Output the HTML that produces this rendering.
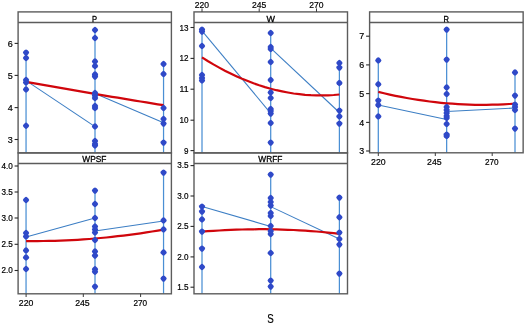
<!DOCTYPE html>
<html><head><meta charset="utf-8"><title>Scatterplot</title>
<style>html,body{margin:0;padding:0;background:#fff}svg{display:block}</style></head>
<body>
<svg width="525" height="325" viewBox="0 0 525 325" font-family='"Liberation Sans", sans-serif' fill="#000">
<rect width="525" height="325" fill="#fff"/>
<line x1="26.05" y1="52.6" x2="26.05" y2="152.9" stroke="#4a8fd4" stroke-width="1.25"/>
<line x1="95.0" y1="30" x2="95.0" y2="152.9" stroke="#4a8fd4" stroke-width="1.25"/>
<line x1="163.55" y1="64" x2="163.55" y2="152.9" stroke="#4a8fd4" stroke-width="1.25"/>
<line x1="26.05" y1="80.6" x2="95.0" y2="126.6" stroke="#3c7ec4" stroke-width="1.05"/>
<line x1="95.0" y1="93.5" x2="163.55" y2="122.7" stroke="#3c7ec4" stroke-width="1.05"/>
<polyline points="26.1,81.8 31.8,82.8 37.5,83.9 43.2,84.9 49.0,85.9 54.7,86.9 60.4,87.9 66.2,88.9 71.9,89.9 77.6,90.9 83.3,91.9 89.1,92.9 94.8,93.9 100.5,94.8 106.3,95.8 112.0,96.8 117.7,97.7 123.4,98.7 129.2,99.6 134.9,100.6 140.6,101.5 146.4,102.4 152.1,103.4 157.8,104.3 163.6,105.2" fill="none" stroke="#d0060c" stroke-width="2.2" stroke-linecap="butt"/>
<rect x="-2.7" y="-2.7" width="5.4" height="5.4" rx="1.8" fill="#2f49c8" transform="translate(26.05 52.6) rotate(45)"/>
<rect x="-2.7" y="-2.7" width="5.4" height="5.4" rx="1.8" fill="#2f49c8" transform="translate(26.05 58) rotate(45)"/>
<rect x="-2.7" y="-2.7" width="5.4" height="5.4" rx="1.8" fill="#2f49c8" transform="translate(26.05 80) rotate(45)"/>
<rect x="-2.7" y="-2.7" width="5.4" height="5.4" rx="1.8" fill="#2f49c8" transform="translate(26.05 82.5) rotate(45)"/>
<rect x="-2.7" y="-2.7" width="5.4" height="5.4" rx="1.8" fill="#2f49c8" transform="translate(26.05 89.4) rotate(45)"/>
<rect x="-2.7" y="-2.7" width="5.4" height="5.4" rx="1.8" fill="#2f49c8" transform="translate(26.05 125.8) rotate(45)"/>
<rect x="-2.7" y="-2.7" width="5.4" height="5.4" rx="1.8" fill="#2f49c8" transform="translate(95.0 30) rotate(45)"/>
<rect x="-2.7" y="-2.7" width="5.4" height="5.4" rx="1.8" fill="#2f49c8" transform="translate(95.0 38) rotate(45)"/>
<rect x="-2.7" y="-2.7" width="5.4" height="5.4" rx="1.8" fill="#2f49c8" transform="translate(95.0 61.4) rotate(45)"/>
<rect x="-2.7" y="-2.7" width="5.4" height="5.4" rx="1.8" fill="#2f49c8" transform="translate(95.0 66) rotate(45)"/>
<rect x="-2.7" y="-2.7" width="5.4" height="5.4" rx="1.8" fill="#2f49c8" transform="translate(95.0 74.4) rotate(45)"/>
<rect x="-2.7" y="-2.7" width="5.4" height="5.4" rx="1.8" fill="#2f49c8" transform="translate(95.0 76.6) rotate(45)"/>
<rect x="-2.7" y="-2.7" width="5.4" height="5.4" rx="1.8" fill="#2f49c8" transform="translate(95.0 93) rotate(45)"/>
<rect x="-2.7" y="-2.7" width="5.4" height="5.4" rx="1.8" fill="#2f49c8" transform="translate(95.0 95.4) rotate(45)"/>
<rect x="-2.7" y="-2.7" width="5.4" height="5.4" rx="1.8" fill="#2f49c8" transform="translate(95.0 98) rotate(45)"/>
<rect x="-2.7" y="-2.7" width="5.4" height="5.4" rx="1.8" fill="#2f49c8" transform="translate(95.0 106) rotate(45)"/>
<rect x="-2.7" y="-2.7" width="5.4" height="5.4" rx="1.8" fill="#2f49c8" transform="translate(95.0 108) rotate(45)"/>
<rect x="-2.7" y="-2.7" width="5.4" height="5.4" rx="1.8" fill="#2f49c8" transform="translate(95.0 126.4) rotate(45)"/>
<rect x="-2.7" y="-2.7" width="5.4" height="5.4" rx="1.8" fill="#2f49c8" transform="translate(95.0 141) rotate(45)"/>
<rect x="-2.7" y="-2.7" width="5.4" height="5.4" rx="1.8" fill="#2f49c8" transform="translate(95.0 144) rotate(45)"/>
<rect x="-2.7" y="-2.7" width="5.4" height="5.4" rx="1.8" fill="#2f49c8" transform="translate(95.0 145.5) rotate(45)"/>
<rect x="-2.7" y="-2.7" width="5.4" height="5.4" rx="1.8" fill="#2f49c8" transform="translate(163.55 64) rotate(45)"/>
<rect x="-2.7" y="-2.7" width="5.4" height="5.4" rx="1.8" fill="#2f49c8" transform="translate(163.55 74) rotate(45)"/>
<rect x="-2.7" y="-2.7" width="5.4" height="5.4" rx="1.8" fill="#2f49c8" transform="translate(163.55 108) rotate(45)"/>
<rect x="-2.7" y="-2.7" width="5.4" height="5.4" rx="1.8" fill="#2f49c8" transform="translate(163.55 119) rotate(45)"/>
<rect x="-2.7" y="-2.7" width="5.4" height="5.4" rx="1.8" fill="#2f49c8" transform="translate(163.55 123.6) rotate(45)"/>
<rect x="-2.7" y="-2.7" width="5.4" height="5.4" rx="1.8" fill="#2f49c8" transform="translate(163.55 142.6) rotate(45)"/>
<rect x="18.1" y="11.9" width="153.3" height="141.0" fill="none" stroke="#5c5c5c" stroke-width="1.4"/>
<line x1="18.1" y1="22.55" x2="171.4" y2="22.55" stroke="#5c5c5c" stroke-width="1.4"/>
<text x="92.10" y="22.20" font-size="8.86" textLength="5.09" lengthAdjust="spacingAndGlyphs" stroke="#000" stroke-width="0.3">P</text>
<line x1="14.600000000000001" y1="43.4" x2="18.1" y2="43.4" stroke="#2a2a2a" stroke-width="1.1"/>
<text x="7.70" y="46.65" font-size="9.04" textLength="5.00" lengthAdjust="spacingAndGlyphs" stroke="#000" stroke-width="0.2">6</text>
<line x1="14.600000000000001" y1="75.4" x2="18.1" y2="75.4" stroke="#2a2a2a" stroke-width="1.1"/>
<text x="7.70" y="78.65" font-size="9.04" textLength="5.00" lengthAdjust="spacingAndGlyphs" stroke="#000" stroke-width="0.2">5</text>
<line x1="14.600000000000001" y1="107.6" x2="18.1" y2="107.6" stroke="#2a2a2a" stroke-width="1.1"/>
<text x="7.70" y="110.85" font-size="9.04" textLength="5.00" lengthAdjust="spacingAndGlyphs" stroke="#000" stroke-width="0.2">4</text>
<line x1="14.600000000000001" y1="139.5" x2="18.1" y2="139.5" stroke="#2a2a2a" stroke-width="1.1"/>
<text x="7.70" y="142.75" font-size="9.04" textLength="5.00" lengthAdjust="spacingAndGlyphs" stroke="#000" stroke-width="0.2">3</text>
<line x1="202.0" y1="29.6" x2="202.0" y2="152.9" stroke="#4a8fd4" stroke-width="1.25"/>
<line x1="270.7" y1="33" x2="270.7" y2="152.9" stroke="#4a8fd4" stroke-width="1.25"/>
<line x1="339.4" y1="63" x2="339.4" y2="152.9" stroke="#4a8fd4" stroke-width="1.25"/>
<line x1="202.0" y1="30.8" x2="270.7" y2="113.3" stroke="#3c7ec4" stroke-width="1.05"/>
<line x1="270.7" y1="48.2" x2="339.4" y2="112.5" stroke="#3c7ec4" stroke-width="1.05"/>
<polyline points="202.0,57.4 207.7,61.0 213.4,64.4 219.2,67.6 224.9,70.7 230.6,73.5 236.3,76.2 242.1,78.8 247.8,81.1 253.5,83.3 259.2,85.3 265.0,87.1 270.7,88.7 276.4,90.2 282.1,91.4 287.9,92.5 293.6,93.5 299.3,94.2 305.1,94.8 310.8,95.2 316.5,95.4 322.2,95.4 327.9,95.3 333.7,95.0 339.4,94.5" fill="none" stroke="#d0060c" stroke-width="2.2" stroke-linecap="butt"/>
<rect x="-2.7" y="-2.7" width="5.4" height="5.4" rx="1.8" fill="#2f49c8" transform="translate(202.0 29.6) rotate(45)"/>
<rect x="-2.7" y="-2.7" width="5.4" height="5.4" rx="1.8" fill="#2f49c8" transform="translate(202.0 31.6) rotate(45)"/>
<rect x="-2.7" y="-2.7" width="5.4" height="5.4" rx="1.8" fill="#2f49c8" transform="translate(202.0 46) rotate(45)"/>
<rect x="-2.7" y="-2.7" width="5.4" height="5.4" rx="1.8" fill="#2f49c8" transform="translate(202.0 75) rotate(45)"/>
<rect x="-2.7" y="-2.7" width="5.4" height="5.4" rx="1.8" fill="#2f49c8" transform="translate(202.0 78) rotate(45)"/>
<rect x="-2.7" y="-2.7" width="5.4" height="5.4" rx="1.8" fill="#2f49c8" transform="translate(202.0 80.4) rotate(45)"/>
<rect x="-2.7" y="-2.7" width="5.4" height="5.4" rx="1.8" fill="#2f49c8" transform="translate(270.7 33) rotate(45)"/>
<rect x="-2.7" y="-2.7" width="5.4" height="5.4" rx="1.8" fill="#2f49c8" transform="translate(270.7 47) rotate(45)"/>
<rect x="-2.7" y="-2.7" width="5.4" height="5.4" rx="1.8" fill="#2f49c8" transform="translate(270.7 49) rotate(45)"/>
<rect x="-2.7" y="-2.7" width="5.4" height="5.4" rx="1.8" fill="#2f49c8" transform="translate(270.7 62) rotate(45)"/>
<rect x="-2.7" y="-2.7" width="5.4" height="5.4" rx="1.8" fill="#2f49c8" transform="translate(270.7 80) rotate(45)"/>
<rect x="-2.7" y="-2.7" width="5.4" height="5.4" rx="1.8" fill="#2f49c8" transform="translate(270.7 92.4) rotate(45)"/>
<rect x="-2.7" y="-2.7" width="5.4" height="5.4" rx="1.8" fill="#2f49c8" transform="translate(270.7 98) rotate(45)"/>
<rect x="-2.7" y="-2.7" width="5.4" height="5.4" rx="1.8" fill="#2f49c8" transform="translate(270.7 109) rotate(45)"/>
<rect x="-2.7" y="-2.7" width="5.4" height="5.4" rx="1.8" fill="#2f49c8" transform="translate(270.7 111) rotate(45)"/>
<rect x="-2.7" y="-2.7" width="5.4" height="5.4" rx="1.8" fill="#2f49c8" transform="translate(270.7 113.6) rotate(45)"/>
<rect x="-2.7" y="-2.7" width="5.4" height="5.4" rx="1.8" fill="#2f49c8" transform="translate(270.7 123) rotate(45)"/>
<rect x="-2.7" y="-2.7" width="5.4" height="5.4" rx="1.8" fill="#2f49c8" transform="translate(270.7 142.6) rotate(45)"/>
<rect x="-2.7" y="-2.7" width="5.4" height="5.4" rx="1.8" fill="#2f49c8" transform="translate(339.4 63) rotate(45)"/>
<rect x="-2.7" y="-2.7" width="5.4" height="5.4" rx="1.8" fill="#2f49c8" transform="translate(339.4 67.6) rotate(45)"/>
<rect x="-2.7" y="-2.7" width="5.4" height="5.4" rx="1.8" fill="#2f49c8" transform="translate(339.4 83) rotate(45)"/>
<rect x="-2.7" y="-2.7" width="5.4" height="5.4" rx="1.8" fill="#2f49c8" transform="translate(339.4 110.6) rotate(45)"/>
<rect x="-2.7" y="-2.7" width="5.4" height="5.4" rx="1.8" fill="#2f49c8" transform="translate(339.4 116.4) rotate(45)"/>
<rect x="-2.7" y="-2.7" width="5.4" height="5.4" rx="1.8" fill="#2f49c8" transform="translate(339.4 123.6) rotate(45)"/>
<rect x="194.0" y="11.9" width="153.5" height="141.0" fill="none" stroke="#5c5c5c" stroke-width="1.4"/>
<line x1="194.0" y1="22.55" x2="347.5" y2="22.55" stroke="#5c5c5c" stroke-width="1.4"/>
<text x="266.40" y="22.20" font-size="8.86" textLength="8.49" lengthAdjust="spacingAndGlyphs" stroke="#000" stroke-width="0.3">W</text>
<line x1="190.5" y1="27.5" x2="194.0" y2="27.5" stroke="#2a2a2a" stroke-width="1.1"/>
<text x="179.58" y="30.50" font-size="8.78" textLength="9.02" lengthAdjust="spacingAndGlyphs" stroke="#000" stroke-width="0.2">13</text>
<line x1="190.5" y1="58.4" x2="194.0" y2="58.4" stroke="#2a2a2a" stroke-width="1.1"/>
<text x="179.58" y="61.40" font-size="8.78" textLength="9.02" lengthAdjust="spacingAndGlyphs" stroke="#000" stroke-width="0.2">12</text>
<line x1="190.5" y1="89.2" x2="194.0" y2="89.2" stroke="#2a2a2a" stroke-width="1.1"/>
<text x="179.58" y="92.20" font-size="8.78" textLength="9.02" lengthAdjust="spacingAndGlyphs" stroke="#000" stroke-width="0.2">11</text>
<line x1="190.5" y1="120.2" x2="194.0" y2="120.2" stroke="#2a2a2a" stroke-width="1.1"/>
<text x="179.58" y="123.20" font-size="8.78" textLength="9.02" lengthAdjust="spacingAndGlyphs" stroke="#000" stroke-width="0.2">10</text>
<line x1="190.5" y1="150.6" x2="194.0" y2="150.6" stroke="#2a2a2a" stroke-width="1.1"/>
<text x="184.09" y="153.60" font-size="8.78" textLength="4.51" lengthAdjust="spacingAndGlyphs" stroke="#000" stroke-width="0.2">9</text>
<line x1="378.3" y1="60.4" x2="378.3" y2="152.8" stroke="#4a8fd4" stroke-width="1.25"/>
<line x1="446.65" y1="29.6" x2="446.65" y2="152.8" stroke="#4a8fd4" stroke-width="1.25"/>
<line x1="515.0" y1="72.4" x2="515.0" y2="152.8" stroke="#4a8fd4" stroke-width="1.25"/>
<line x1="378.3" y1="105" x2="446.65" y2="119.6" stroke="#3c7ec4" stroke-width="1.05"/>
<line x1="446.65" y1="111.6" x2="515.0" y2="108" stroke="#3c7ec4" stroke-width="1.05"/>
<polyline points="378.3,91.9 384.0,93.3 389.7,94.6 395.4,95.8 401.1,96.9 406.8,98.0 412.5,99.0 418.2,99.9 423.9,100.7 429.6,101.5 435.3,102.2 441.0,102.8 446.6,103.3 452.3,103.7 458.0,104.1 463.7,104.4 469.4,104.6 475.1,104.8 480.8,104.8 486.5,104.8 492.2,104.7 497.9,104.6 503.6,104.3 509.3,104.0 515.0,103.6" fill="none" stroke="#d0060c" stroke-width="2.2" stroke-linecap="butt"/>
<rect x="-2.7" y="-2.7" width="5.4" height="5.4" rx="1.8" fill="#2f49c8" transform="translate(378.3 60.4) rotate(45)"/>
<rect x="-2.7" y="-2.7" width="5.4" height="5.4" rx="1.8" fill="#2f49c8" transform="translate(378.3 84.2) rotate(45)"/>
<rect x="-2.7" y="-2.7" width="5.4" height="5.4" rx="1.8" fill="#2f49c8" transform="translate(378.3 100.6) rotate(45)"/>
<rect x="-2.7" y="-2.7" width="5.4" height="5.4" rx="1.8" fill="#2f49c8" transform="translate(378.3 105) rotate(45)"/>
<rect x="-2.7" y="-2.7" width="5.4" height="5.4" rx="1.8" fill="#2f49c8" transform="translate(378.3 116.4) rotate(45)"/>
<rect x="-2.7" y="-2.7" width="5.4" height="5.4" rx="1.8" fill="#2f49c8" transform="translate(446.65 29.6) rotate(45)"/>
<rect x="-2.7" y="-2.7" width="5.4" height="5.4" rx="1.8" fill="#2f49c8" transform="translate(446.65 59.6) rotate(45)"/>
<rect x="-2.7" y="-2.7" width="5.4" height="5.4" rx="1.8" fill="#2f49c8" transform="translate(446.65 87.4) rotate(45)"/>
<rect x="-2.7" y="-2.7" width="5.4" height="5.4" rx="1.8" fill="#2f49c8" transform="translate(446.65 94) rotate(45)"/>
<rect x="-2.7" y="-2.7" width="5.4" height="5.4" rx="1.8" fill="#2f49c8" transform="translate(446.65 107) rotate(45)"/>
<rect x="-2.7" y="-2.7" width="5.4" height="5.4" rx="1.8" fill="#2f49c8" transform="translate(446.65 110) rotate(45)"/>
<rect x="-2.7" y="-2.7" width="5.4" height="5.4" rx="1.8" fill="#2f49c8" transform="translate(446.65 113) rotate(45)"/>
<rect x="-2.7" y="-2.7" width="5.4" height="5.4" rx="1.8" fill="#2f49c8" transform="translate(446.65 116) rotate(45)"/>
<rect x="-2.7" y="-2.7" width="5.4" height="5.4" rx="1.8" fill="#2f49c8" transform="translate(446.65 118) rotate(45)"/>
<rect x="-2.7" y="-2.7" width="5.4" height="5.4" rx="1.8" fill="#2f49c8" transform="translate(446.65 124) rotate(45)"/>
<rect x="-2.7" y="-2.7" width="5.4" height="5.4" rx="1.8" fill="#2f49c8" transform="translate(446.65 134.6) rotate(45)"/>
<rect x="-2.7" y="-2.7" width="5.4" height="5.4" rx="1.8" fill="#2f49c8" transform="translate(446.65 135.9) rotate(45)"/>
<rect x="-2.7" y="-2.7" width="5.4" height="5.4" rx="1.8" fill="#2f49c8" transform="translate(515.0 72.4) rotate(45)"/>
<rect x="-2.7" y="-2.7" width="5.4" height="5.4" rx="1.8" fill="#2f49c8" transform="translate(515.0 95.6) rotate(45)"/>
<rect x="-2.7" y="-2.7" width="5.4" height="5.4" rx="1.8" fill="#2f49c8" transform="translate(515.0 104.6) rotate(45)"/>
<rect x="-2.7" y="-2.7" width="5.4" height="5.4" rx="1.8" fill="#2f49c8" transform="translate(515.0 107) rotate(45)"/>
<rect x="-2.7" y="-2.7" width="5.4" height="5.4" rx="1.8" fill="#2f49c8" transform="translate(515.0 110) rotate(45)"/>
<rect x="-2.7" y="-2.7" width="5.4" height="5.4" rx="1.8" fill="#2f49c8" transform="translate(515.0 128.6) rotate(45)"/>
<rect x="369.6" y="11.9" width="153.54999999999995" height="140.9" fill="none" stroke="#5c5c5c" stroke-width="1.4"/>
<line x1="369.6" y1="22.55" x2="523.15" y2="22.55" stroke="#5c5c5c" stroke-width="1.4"/>
<text x="443.55" y="22.20" font-size="8.86" textLength="5.45" lengthAdjust="spacingAndGlyphs" stroke="#000" stroke-width="0.3">R</text>
<line x1="366.1" y1="36.2" x2="369.6" y2="36.2" stroke="#2a2a2a" stroke-width="1.1"/>
<text x="359.25" y="39.35" font-size="8.95" textLength="4.95" lengthAdjust="spacingAndGlyphs" stroke="#000" stroke-width="0.2">7</text>
<line x1="366.1" y1="64.9" x2="369.6" y2="64.9" stroke="#2a2a2a" stroke-width="1.1"/>
<text x="359.25" y="68.05" font-size="8.95" textLength="4.95" lengthAdjust="spacingAndGlyphs" stroke="#000" stroke-width="0.2">6</text>
<line x1="366.1" y1="93.6" x2="369.6" y2="93.6" stroke="#2a2a2a" stroke-width="1.1"/>
<text x="359.25" y="96.75" font-size="8.95" textLength="4.95" lengthAdjust="spacingAndGlyphs" stroke="#000" stroke-width="0.2">5</text>
<line x1="366.1" y1="122.4" x2="369.6" y2="122.4" stroke="#2a2a2a" stroke-width="1.1"/>
<text x="359.25" y="125.55" font-size="8.95" textLength="4.95" lengthAdjust="spacingAndGlyphs" stroke="#000" stroke-width="0.2">4</text>
<line x1="366.1" y1="151" x2="369.6" y2="151" stroke="#2a2a2a" stroke-width="1.1"/>
<text x="359.25" y="154.15" font-size="8.95" textLength="4.95" lengthAdjust="spacingAndGlyphs" stroke="#000" stroke-width="0.2">3</text>
<line x1="26.05" y1="200" x2="26.05" y2="293.8" stroke="#4a8fd4" stroke-width="1.25"/>
<line x1="95.0" y1="190.6" x2="95.0" y2="293.8" stroke="#4a8fd4" stroke-width="1.25"/>
<line x1="163.55" y1="172.6" x2="163.55" y2="293.8" stroke="#4a8fd4" stroke-width="1.25"/>
<line x1="26.05" y1="236.9" x2="95.0" y2="218" stroke="#3c7ec4" stroke-width="1.05"/>
<line x1="95.0" y1="231" x2="163.55" y2="221" stroke="#3c7ec4" stroke-width="1.05"/>
<polyline points="26.1,241.1 31.8,241.1 37.5,241.1 43.2,241.0 49.0,240.9 54.7,240.8 60.4,240.6 66.2,240.4 71.9,240.1 77.6,239.8 83.3,239.4 89.1,239.0 94.8,238.5 100.5,238.0 106.3,237.5 112.0,236.9 117.7,236.2 123.4,235.6 129.2,234.9 134.9,234.1 140.6,233.3 146.4,232.4 152.1,231.5 157.8,230.6 163.6,229.6" fill="none" stroke="#d0060c" stroke-width="2.2" stroke-linecap="butt"/>
<rect x="-2.7" y="-2.7" width="5.4" height="5.4" rx="1.8" fill="#2f49c8" transform="translate(26.05 200) rotate(45)"/>
<rect x="-2.7" y="-2.7" width="5.4" height="5.4" rx="1.8" fill="#2f49c8" transform="translate(26.05 233) rotate(45)"/>
<rect x="-2.7" y="-2.7" width="5.4" height="5.4" rx="1.8" fill="#2f49c8" transform="translate(26.05 236.4) rotate(45)"/>
<rect x="-2.7" y="-2.7" width="5.4" height="5.4" rx="1.8" fill="#2f49c8" transform="translate(26.05 250.4) rotate(45)"/>
<rect x="-2.7" y="-2.7" width="5.4" height="5.4" rx="1.8" fill="#2f49c8" transform="translate(26.05 257.4) rotate(45)"/>
<rect x="-2.7" y="-2.7" width="5.4" height="5.4" rx="1.8" fill="#2f49c8" transform="translate(26.05 269) rotate(45)"/>
<rect x="-2.7" y="-2.7" width="5.4" height="5.4" rx="1.8" fill="#2f49c8" transform="translate(95.0 190.6) rotate(45)"/>
<rect x="-2.7" y="-2.7" width="5.4" height="5.4" rx="1.8" fill="#2f49c8" transform="translate(95.0 204) rotate(45)"/>
<rect x="-2.7" y="-2.7" width="5.4" height="5.4" rx="1.8" fill="#2f49c8" transform="translate(95.0 218) rotate(45)"/>
<rect x="-2.7" y="-2.7" width="5.4" height="5.4" rx="1.8" fill="#2f49c8" transform="translate(95.0 226.5) rotate(45)"/>
<rect x="-2.7" y="-2.7" width="5.4" height="5.4" rx="1.8" fill="#2f49c8" transform="translate(95.0 229.5) rotate(45)"/>
<rect x="-2.7" y="-2.7" width="5.4" height="5.4" rx="1.8" fill="#2f49c8" transform="translate(95.0 232.5) rotate(45)"/>
<rect x="-2.7" y="-2.7" width="5.4" height="5.4" rx="1.8" fill="#2f49c8" transform="translate(95.0 240) rotate(45)"/>
<rect x="-2.7" y="-2.7" width="5.4" height="5.4" rx="1.8" fill="#2f49c8" transform="translate(95.0 251.4) rotate(45)"/>
<rect x="-2.7" y="-2.7" width="5.4" height="5.4" rx="1.8" fill="#2f49c8" transform="translate(95.0 255.6) rotate(45)"/>
<rect x="-2.7" y="-2.7" width="5.4" height="5.4" rx="1.8" fill="#2f49c8" transform="translate(95.0 269.3) rotate(45)"/>
<rect x="-2.7" y="-2.7" width="5.4" height="5.4" rx="1.8" fill="#2f49c8" transform="translate(95.0 271.8) rotate(45)"/>
<rect x="-2.7" y="-2.7" width="5.4" height="5.4" rx="1.8" fill="#2f49c8" transform="translate(95.0 286.6) rotate(45)"/>
<rect x="-2.7" y="-2.7" width="5.4" height="5.4" rx="1.8" fill="#2f49c8" transform="translate(163.55 172.6) rotate(45)"/>
<rect x="-2.7" y="-2.7" width="5.4" height="5.4" rx="1.8" fill="#2f49c8" transform="translate(163.55 220.4) rotate(45)"/>
<rect x="-2.7" y="-2.7" width="5.4" height="5.4" rx="1.8" fill="#2f49c8" transform="translate(163.55 229.4) rotate(45)"/>
<rect x="-2.7" y="-2.7" width="5.4" height="5.4" rx="1.8" fill="#2f49c8" transform="translate(163.55 252.4) rotate(45)"/>
<rect x="-2.7" y="-2.7" width="5.4" height="5.4" rx="1.8" fill="#2f49c8" transform="translate(163.55 278.6) rotate(45)"/>
<rect x="18.1" y="152.9" width="153.3" height="140.9" fill="none" stroke="#5c5c5c" stroke-width="1.4"/>
<line x1="18.1" y1="163.5" x2="171.4" y2="163.5" stroke="#5c5c5c" stroke-width="1.4"/>
<text x="82.28" y="162.25" font-size="8.51" textLength="24.14" lengthAdjust="spacingAndGlyphs" stroke="#000" stroke-width="0.3">WPSF</text>
<line x1="14.600000000000001" y1="166" x2="18.1" y2="166" stroke="#2a2a2a" stroke-width="1.1"/>
<text x="1.39" y="168.70" font-size="8.51" textLength="11.31" lengthAdjust="spacingAndGlyphs" stroke="#000" stroke-width="0.2">4.0</text>
<line x1="14.600000000000001" y1="192" x2="18.1" y2="192" stroke="#2a2a2a" stroke-width="1.1"/>
<text x="1.39" y="194.70" font-size="8.51" textLength="11.31" lengthAdjust="spacingAndGlyphs" stroke="#000" stroke-width="0.2">3.5</text>
<line x1="14.600000000000001" y1="218" x2="18.1" y2="218" stroke="#2a2a2a" stroke-width="1.1"/>
<text x="1.39" y="220.70" font-size="8.51" textLength="11.31" lengthAdjust="spacingAndGlyphs" stroke="#000" stroke-width="0.2">3.0</text>
<line x1="14.600000000000001" y1="244.3" x2="18.1" y2="244.3" stroke="#2a2a2a" stroke-width="1.1"/>
<text x="1.39" y="247.00" font-size="8.51" textLength="11.31" lengthAdjust="spacingAndGlyphs" stroke="#000" stroke-width="0.2">2.5</text>
<line x1="14.600000000000001" y1="270.5" x2="18.1" y2="270.5" stroke="#2a2a2a" stroke-width="1.1"/>
<text x="1.39" y="273.20" font-size="8.51" textLength="11.31" lengthAdjust="spacingAndGlyphs" stroke="#000" stroke-width="0.2">2.0</text>
<line x1="202.0" y1="206.6" x2="202.0" y2="293.8" stroke="#4a8fd4" stroke-width="1.25"/>
<line x1="270.7" y1="174.6" x2="270.7" y2="293.8" stroke="#4a8fd4" stroke-width="1.25"/>
<line x1="339.4" y1="197.6" x2="339.4" y2="293.8" stroke="#4a8fd4" stroke-width="1.25"/>
<line x1="202.0" y1="206.6" x2="270.7" y2="226.4" stroke="#3c7ec4" stroke-width="1.05"/>
<line x1="270.7" y1="206.6" x2="339.4" y2="239" stroke="#3c7ec4" stroke-width="1.05"/>
<polyline points="202.0,231.7 207.7,231.2 213.4,230.8 219.2,230.5 224.9,230.1 230.6,229.9 236.3,229.6 242.1,229.5 247.8,229.3 253.5,229.3 259.2,229.2 265.0,229.2 270.7,229.3 276.4,229.4 282.1,229.6 287.9,229.8 293.6,230.0 299.3,230.3 305.1,230.7 310.8,231.1 316.5,231.5 322.2,232.0 327.9,232.6 333.7,233.2 339.4,233.8" fill="none" stroke="#d0060c" stroke-width="2.2" stroke-linecap="butt"/>
<rect x="-2.7" y="-2.7" width="5.4" height="5.4" rx="1.8" fill="#2f49c8" transform="translate(202.0 206.6) rotate(45)"/>
<rect x="-2.7" y="-2.7" width="5.4" height="5.4" rx="1.8" fill="#2f49c8" transform="translate(202.0 211.6) rotate(45)"/>
<rect x="-2.7" y="-2.7" width="5.4" height="5.4" rx="1.8" fill="#2f49c8" transform="translate(202.0 219.4) rotate(45)"/>
<rect x="-2.7" y="-2.7" width="5.4" height="5.4" rx="1.8" fill="#2f49c8" transform="translate(202.0 231.6) rotate(45)"/>
<rect x="-2.7" y="-2.7" width="5.4" height="5.4" rx="1.8" fill="#2f49c8" transform="translate(202.0 248.6) rotate(45)"/>
<rect x="-2.7" y="-2.7" width="5.4" height="5.4" rx="1.8" fill="#2f49c8" transform="translate(202.0 267) rotate(45)"/>
<rect x="-2.7" y="-2.7" width="5.4" height="5.4" rx="1.8" fill="#2f49c8" transform="translate(270.7 174.6) rotate(45)"/>
<rect x="-2.7" y="-2.7" width="5.4" height="5.4" rx="1.8" fill="#2f49c8" transform="translate(270.7 198) rotate(45)"/>
<rect x="-2.7" y="-2.7" width="5.4" height="5.4" rx="1.8" fill="#2f49c8" transform="translate(270.7 202) rotate(45)"/>
<rect x="-2.7" y="-2.7" width="5.4" height="5.4" rx="1.8" fill="#2f49c8" transform="translate(270.7 205.6) rotate(45)"/>
<rect x="-2.7" y="-2.7" width="5.4" height="5.4" rx="1.8" fill="#2f49c8" transform="translate(270.7 213) rotate(45)"/>
<rect x="-2.7" y="-2.7" width="5.4" height="5.4" rx="1.8" fill="#2f49c8" transform="translate(270.7 216) rotate(45)"/>
<rect x="-2.7" y="-2.7" width="5.4" height="5.4" rx="1.8" fill="#2f49c8" transform="translate(270.7 226) rotate(45)"/>
<rect x="-2.7" y="-2.7" width="5.4" height="5.4" rx="1.8" fill="#2f49c8" transform="translate(270.7 231) rotate(45)"/>
<rect x="-2.7" y="-2.7" width="5.4" height="5.4" rx="1.8" fill="#2f49c8" transform="translate(270.7 234) rotate(45)"/>
<rect x="-2.7" y="-2.7" width="5.4" height="5.4" rx="1.8" fill="#2f49c8" transform="translate(270.7 253) rotate(45)"/>
<rect x="-2.7" y="-2.7" width="5.4" height="5.4" rx="1.8" fill="#2f49c8" transform="translate(270.7 280.6) rotate(45)"/>
<rect x="-2.7" y="-2.7" width="5.4" height="5.4" rx="1.8" fill="#2f49c8" transform="translate(270.7 286.6) rotate(45)"/>
<rect x="-2.7" y="-2.7" width="5.4" height="5.4" rx="1.8" fill="#2f49c8" transform="translate(339.4 197.6) rotate(45)"/>
<rect x="-2.7" y="-2.7" width="5.4" height="5.4" rx="1.8" fill="#2f49c8" transform="translate(339.4 217.2) rotate(45)"/>
<rect x="-2.7" y="-2.7" width="5.4" height="5.4" rx="1.8" fill="#2f49c8" transform="translate(339.4 232.6) rotate(45)"/>
<rect x="-2.7" y="-2.7" width="5.4" height="5.4" rx="1.8" fill="#2f49c8" transform="translate(339.4 239) rotate(45)"/>
<rect x="-2.7" y="-2.7" width="5.4" height="5.4" rx="1.8" fill="#2f49c8" transform="translate(339.4 244.6) rotate(45)"/>
<rect x="-2.7" y="-2.7" width="5.4" height="5.4" rx="1.8" fill="#2f49c8" transform="translate(339.4 273.6) rotate(45)"/>
<rect x="194.0" y="152.9" width="153.5" height="140.9" fill="none" stroke="#5c5c5c" stroke-width="1.4"/>
<line x1="194.0" y1="163.5" x2="347.5" y2="163.5" stroke="#5c5c5c" stroke-width="1.4"/>
<text x="258.28" y="162.25" font-size="8.51" textLength="24.14" lengthAdjust="spacingAndGlyphs" stroke="#000" stroke-width="0.3">WRFF</text>
<line x1="190.5" y1="165.6" x2="194.0" y2="165.6" stroke="#2a2a2a" stroke-width="1.1"/>
<text x="177.29" y="168.20" font-size="8.51" textLength="11.31" lengthAdjust="spacingAndGlyphs" stroke="#000" stroke-width="0.2">3.5</text>
<line x1="190.5" y1="196" x2="194.0" y2="196" stroke="#2a2a2a" stroke-width="1.1"/>
<text x="177.29" y="198.60" font-size="8.51" textLength="11.31" lengthAdjust="spacingAndGlyphs" stroke="#000" stroke-width="0.2">3.0</text>
<line x1="190.5" y1="226.4" x2="194.0" y2="226.4" stroke="#2a2a2a" stroke-width="1.1"/>
<text x="177.29" y="229.00" font-size="8.51" textLength="11.31" lengthAdjust="spacingAndGlyphs" stroke="#000" stroke-width="0.2">2.5</text>
<line x1="190.5" y1="256.9" x2="194.0" y2="256.9" stroke="#2a2a2a" stroke-width="1.1"/>
<text x="177.29" y="259.50" font-size="8.51" textLength="11.31" lengthAdjust="spacingAndGlyphs" stroke="#000" stroke-width="0.2">2.0</text>
<line x1="190.5" y1="287.2" x2="194.0" y2="287.2" stroke="#2a2a2a" stroke-width="1.1"/>
<text x="177.29" y="289.80" font-size="8.51" textLength="11.31" lengthAdjust="spacingAndGlyphs" stroke="#000" stroke-width="0.2">1.5</text>
<line x1="26.1" y1="293.8" x2="26.1" y2="297.0" stroke="#3a3a3a" stroke-width="1"/>
<text x="18.87" y="305.65" font-size="8.78" textLength="14.55" lengthAdjust="spacingAndGlyphs" stroke="#000" stroke-width="0.2">220</text>
<line x1="83.3" y1="293.8" x2="83.3" y2="297.0" stroke="#3a3a3a" stroke-width="1"/>
<text x="75.17" y="305.65" font-size="8.78" textLength="14.55" lengthAdjust="spacingAndGlyphs" stroke="#000" stroke-width="0.2">245</text>
<line x1="140.6" y1="293.8" x2="140.6" y2="297.0" stroke="#3a3a3a" stroke-width="1"/>
<text x="133.39" y="305.65" font-size="8.78" textLength="13.68" lengthAdjust="spacingAndGlyphs" stroke="#000" stroke-width="0.2">270</text>
<line x1="378.3" y1="152.8" x2="378.3" y2="156.0" stroke="#3a3a3a" stroke-width="1"/>
<text x="371.12" y="164.65" font-size="8.78" textLength="14.55" lengthAdjust="spacingAndGlyphs" stroke="#000" stroke-width="0.2">220</text>
<line x1="435.3" y1="152.8" x2="435.3" y2="156.0" stroke="#3a3a3a" stroke-width="1"/>
<text x="427.08" y="164.65" font-size="8.78" textLength="14.55" lengthAdjust="spacingAndGlyphs" stroke="#000" stroke-width="0.2">245</text>
<line x1="492.2" y1="152.8" x2="492.2" y2="156.0" stroke="#3a3a3a" stroke-width="1"/>
<text x="484.98" y="164.65" font-size="8.78" textLength="13.68" lengthAdjust="spacingAndGlyphs" stroke="#000" stroke-width="0.2">270</text>
<line x1="202.0" y1="8.4" x2="202.0" y2="11.9" stroke="#3a3a3a" stroke-width="1"/>
<text x="194.77" y="7.70" font-size="8.60" textLength="14.26" lengthAdjust="spacingAndGlyphs" stroke="#000" stroke-width="0.2">220</text>
<line x1="259.2" y1="8.4" x2="259.2" y2="11.9" stroke="#3a3a3a" stroke-width="1"/>
<text x="252.02" y="7.70" font-size="8.60" textLength="14.26" lengthAdjust="spacingAndGlyphs" stroke="#000" stroke-width="0.2">245</text>
<line x1="316.5" y1="8.4" x2="316.5" y2="11.9" stroke="#3a3a3a" stroke-width="1"/>
<text x="309.27" y="7.70" font-size="8.60" textLength="14.26" lengthAdjust="spacingAndGlyphs" stroke="#000" stroke-width="0.2">270</text>
<text x="267.14" y="323.40" font-size="12.48" textLength="6.51" lengthAdjust="spacingAndGlyphs" stroke="#000" stroke-width="0.2">S</text>
</svg>
</body></html>
